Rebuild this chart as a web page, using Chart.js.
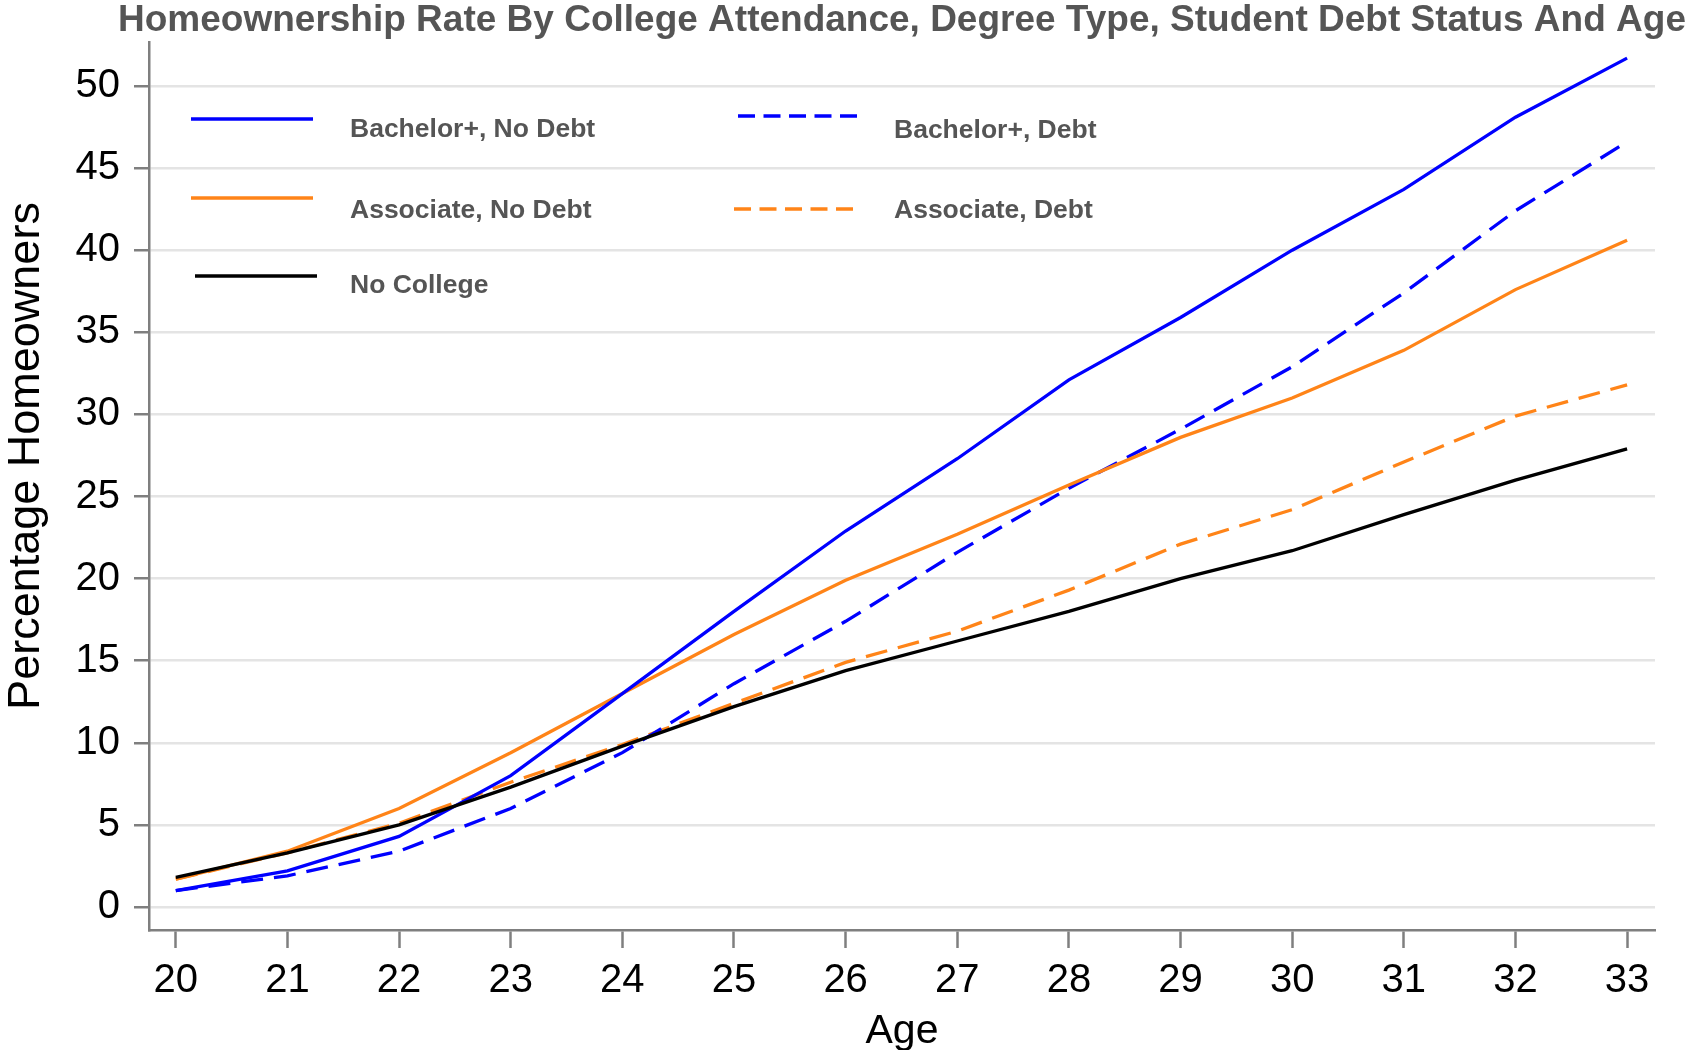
<!DOCTYPE html>
<html>
<head>
<meta charset="utf-8">
<title>Homeownership Rate By College Attendance</title>
<script src="https://cdn.jsdelivr.net/npm/chart.js@4.4.1/dist/chart.umd.min.js"></script>
<style>
    html, body { margin: 0; padding: 0; background: #fff; }
    #homeChart { display: block; }
</style>
</head>
<body>
<canvas id="homeChart" width="1691" height="1050"></canvas>
<script>
const chartTitle = 'Homeownership Rate By College Attendance, Degree Type, Student Debt Status And Age';
const yAxisTitle = 'Percentage Homeowners';
const xAxisTitle = 'Age';

const ages = [20, 21, 22, 23, 24, 25, 26, 27, 28, 29, 30, 31, 32, 33];
const yTicks = [0, 5, 10, 15, 20, 25, 30, 35, 40, 45, 50];

const seriesLabels = ['Bachelor+, No Debt', 'Bachelor+, Debt', 'Associate, No Debt', 'Associate, Debt', 'No College'];
const bachelorNoDebt  = [1.0, 2.2, 4.3, 8.0, 13.0, 18.0, 22.9, 27.3, 32.1, 35.9, 40.0, 43.7, 48.1, 51.7];
const bachelorDebt    = [1.0, 1.9, 3.4, 6.0, 9.4, 13.6, 17.4, 21.6, 25.5, 29.1, 32.9, 37.4, 42.4, 46.6];
const associateNoDebt = [1.7, 3.4, 6.0, 9.4, 13.0, 16.6, 19.9, 22.7, 25.7, 28.6, 31.0, 33.9, 37.6, 40.6];
const associateDebt   = [1.7, 3.3, 5.1, 7.6, 9.9, 12.4, 14.9, 16.8, 19.3, 22.1, 24.2, 27.1, 29.9, 31.8];
const noCollege       = [1.8, 3.3, 5.0, 7.3, 9.8, 12.2, 14.4, 16.2, 18.0, 20.0, 21.7, 23.9, 26.0, 27.9];

const BLUE = '#0000ff';
const ORANGE = '#ff8418';
const DASH = [22, 11];

function points(values) {
    return ages.map((a, i) => ({ x: a, y: values[i] }));
}

// title + rotated y title, drawn outside the chart area
const headerPlugin = {
    id: 'header',
    afterDraw(chart) {
        const ctx = chart.ctx;
        const area = chart.chartArea;
        ctx.save();
        ctx.fillStyle = '#555555';
        ctx.font = 'bold 37px "Liberation Sans", Arial, sans-serif';
        ctx.textAlign = 'center';
        ctx.textBaseline = 'alphabetic';
        ctx.fillText(chartTitle, (area.left + area.right) / 2, 31);

        ctx.fillStyle = '#000';
        ctx.font = '45px "Liberation Sans", Arial, sans-serif';
        ctx.translate(27, 456);
        ctx.rotate(-Math.PI / 2);
        ctx.textBaseline = 'middle';
        ctx.fillText(yAxisTitle, 0, 0);
        ctx.restore();
    }
};

// legend sits inside the plot, 2 columns
const legendSlots = [
    { lineX: 191, lineY: 119, textX: 350, textY: 130 },
    { lineX: 738, lineY: 116, textX: 894, textY: 131 },
    { lineX: 191, lineY: 198, textX: 350, textY: 211 },
    { lineX: 734, lineY: 209, textX: 894, textY: 211 },
    { lineX: 195, lineY: 276, textX: 350, textY: 286 }
];

const legendPlugin = {
    id: 'insideLegend',
    afterDatasetsDraw(chart) {
        const ctx = chart.ctx;
        chart.data.datasets.forEach((ds, i) => {
            const s = legendSlots[i];
            ctx.save();
            ctx.strokeStyle = ds.borderColor;
            ctx.lineWidth = 3.3;
            ctx.setLineDash(ds.borderDash ? [17, 8.5] : []);
            ctx.beginPath();
            ctx.moveTo(s.lineX, s.lineY);
            ctx.lineTo(s.lineX + 122, s.lineY);
            ctx.stroke();
            ctx.setLineDash([]);
            ctx.fillStyle = '#555555';
            ctx.font = 'bold 26.5px "Liberation Sans", Arial, sans-serif';
            ctx.textBaseline = 'middle';
            ctx.fillText(ds.label, s.textX, s.textY);
            ctx.restore();
        });
    }
};

Chart.defaults.font.family = '"Liberation Sans", Arial, sans-serif';
Chart.defaults.color = '#000';

const ctx = document.getElementById('homeChart').getContext('2d');

new Chart(ctx, {
    type: 'line',
    data: {
        datasets: [
            { label: seriesLabels[0], data: points(bachelorNoDebt), borderColor: BLUE, order: 1 },
            { label: seriesLabels[1], data: points(bachelorDebt), borderColor: BLUE, borderDash: DASH, order: 3 },
            { label: seriesLabels[2], data: points(associateNoDebt), borderColor: ORANGE, order: 2 },
            { label: seriesLabels[3], data: points(associateDebt), borderColor: ORANGE, borderDash: DASH, order: 4 },
            { label: seriesLabels[4], data: points(noCollege), borderColor: '#000', order: 0 }
        ]
    },
    options: {
        responsive: false,
        animation: false,
        layout: { padding: { top: 42, right: 36, left: 0, bottom: 0 } },
        elements: {
            point: { radius: 0, hoverRadius: 0 },
            line: { tension: 0, borderWidth: 3.3, fill: false }
        },
        plugins: {
            legend: { display: false },
            tooltip: { enabled: false },
            title: { display: false }
        },
        scales: {
            x: {
                type: 'linear',
                min: 19.76,
                max: 33.25,
                afterBuildTicks: axis => { axis.ticks = ages.map(v => ({ value: v })); },
                afterFit: scale => { scale.height = 120; },
                grid: { drawOnChartArea: false, tickLength: 18, tickColor: '#7f7f7f', tickWidth: 2.5 },
                border: { color: '#7f7f7f', width: 2.5 },
                ticks: { font: { size: 40 }, color: '#000', padding: 9, autoSkip: false, maxRotation: 0 },
                title: { display: true, text: xAxisTitle, color: '#000', font: { size: 41, lineHeight: 0.9 }, padding: 0 }
            },
            y: {
                type: 'linear',
                min: -1.4,
                max: 52.68,
                afterBuildTicks: axis => { axis.ticks = yTicks.map(v => ({ value: v })); },
                afterFit: scale => { scale.width = 149; },
                grid: { color: '#e4e4e4', lineWidth: 2.5, tickLength: 15, tickColor: '#7f7f7f', tickWidth: 2.5 },
                border: { color: '#7f7f7f', width: 2.5 },
                ticks: { font: { size: 40 }, color: '#000', padding: 14 }
            }
        }
    },
    plugins: [headerPlugin, legendPlugin]
});
</script>
</body>
</html>
